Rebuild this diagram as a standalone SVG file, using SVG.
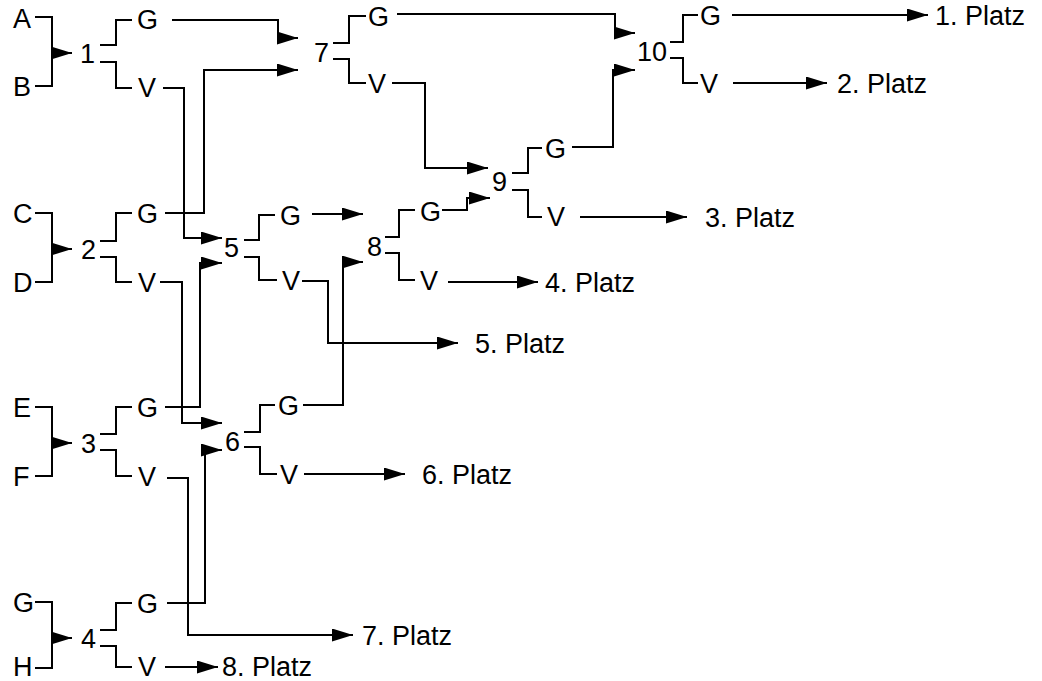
<svg xmlns="http://www.w3.org/2000/svg" width="1042" height="681" viewBox="0 0 1042 681">
<style>
text{font-family:"Liberation Sans",Arial,sans-serif;font-size:27px;fill:#000}
.ln{fill:none;stroke:#000;stroke-width:2}
.ar{fill:none;stroke:#000;stroke-width:2;marker-end:url(#ah)}
</style>
<defs>
<marker id="ah" markerUnits="userSpaceOnUse" markerWidth="21" markerHeight="13" refX="21" refY="6.5" orient="auto">
<path d="M0,0 L21,6.5 L0,13 z" fill="#000"/>
</marker>
</defs>
<rect width="1042" height="681" fill="#fff"/>

<g id="match1">
<text x="13" y="28">A</text><text x="13" y="96">B</text>
<path class="ln" d="M35,17 H52 V86 H35"/><path class="ar" d="M52,53 H72"/>
<text x="80" y="63">1</text>
<path class="ln" d="M100,45 H116 V20 H132 M100,62 H116 V88 H132"/>
<text x="137" y="29">G</text><text x="138" y="97">V</text>
</g>
<g id="match2">
<text x="13" y="223">C</text><text x="13" y="292">D</text>
<path class="ln" d="M35,213 H52 V282 H35"/><path class="ar" d="M52,249 H72"/>
<text x="81" y="259">2</text>
<path class="ln" d="M100,241 H116 V213 H132 M100,257 H116 V282 H132"/>
<text x="137" y="223">G</text><text x="138" y="292">V</text>
</g>
<g id="match3">
<text x="13" y="417">E</text><text x="13" y="486">F</text>
<path class="ln" d="M35,407 H52 V476 H35"/><path class="ar" d="M52,443 H72"/>
<text x="81" y="453">3</text>
<path class="ln" d="M100,434 H116 V407 H132 M100,450 H116 V476 H132"/>
<text x="137" y="417">G</text><text x="138" y="486">V</text>
</g>
<g id="match4">
<text x="13" y="612">G</text><text x="13" y="676">H</text>
<path class="ln" d="M35,602 H52 V668 H35"/><path class="ar" d="M52,638 H72"/>
<text x="81" y="648">4</text>
<path class="ln" d="M100,630 H116 V603 H132 M100,646 H116 V667 H132"/>
<text x="137" y="613">G</text><text x="138" y="676">V</text>
</g>
<g id="match5">
<text x="224" y="257">5</text>
<path class="ln" d="M244,240 H259 V215 H275 M244,257 H259 V280 H277"/>
<text x="280" y="225">G</text><text x="282" y="290">V</text>
</g>
<g id="match6">
<text x="225" y="451">6</text>
<path class="ln" d="M244,432 H260 V405 H275 M244,447 H260 V474 H277"/>
<text x="278" y="415">G</text><text x="280" y="484">V</text>
</g>
<g id="match7">
<text x="314" y="62">7</text>
<path class="ln" d="M333,43 H349 V16 H366 M333,59 H349 V83 H366"/>
<text x="368" y="26">G</text><text x="368" y="93">V</text>
</g>
<g id="match8">
<text x="367" y="256">8</text>
<path class="ln" d="M385,237 H399 V210 H415 M385,253 H399 V280 H415"/>
<text x="420" y="221">G</text><text x="420" y="290">V</text>
</g>
<g id="match9">
<text x="492" y="191">9</text>
<path class="ln" d="M512,173 H528 V148 H542 M512,190 H528 V217 H542"/>
<text x="545" y="158">G</text><text x="547" y="226">V</text>
</g>
<g id="match10">
<text x="637" y="61">10</text>
<path class="ln" d="M670,42 H683 V15 H698 M670,58 H683 V83 H698"/>
<text x="700" y="25">G</text><text x="700" y="93">V</text>
</g>
<g id="places">
<text x="935" y="25">1. Platz</text>
<text x="837" y="93">2. Platz</text>
<text x="705" y="227">3. Platz</text>
<text x="545" y="292">4. Platz</text>
<text x="475" y="353">5. Platz</text>
<text x="422" y="484">6. Platz</text>
<text x="362" y="645">7. Platz</text>
<text x="222" y="676">8. Platz</text>
</g>
<g id="connectors">
<path class="ar" d="M172,20 H278 V38 H298"/>
<path class="ar" d="M163,88 H184 V238 H222"/>
<path class="ar" d="M165,213 H204 V70 H298"/>
<path class="ar" d="M160,282 H182 V423 H222"/>
<path class="ar" d="M165,407 H200 V263 H222"/>
<path class="ar" d="M167,478 H188 V635 H353"/>
<path class="ar" d="M167,603 H205 V450 H222"/>
<path class="ar" d="M165,667 H218"/>
<path class="ar" d="M312,214 H363"/>
<path class="ar" d="M302,281 H328 V343 H458"/>
<path class="ar" d="M303,405 H343 V262 H363"/>
<path class="ar" d="M304,474 H405"/>
<path class="ar" d="M397,14 H615 V33 H635"/>
<path class="ar" d="M392,83 H425 V168 H488"/>
<path class="ar" d="M442,210 H467 V198 H490"/>
<path class="ar" d="M448,282 H538"/>
<path class="ar" d="M572,147 H613 V70 H635"/>
<path class="ar" d="M580,217 H687"/>
<path class="ar" d="M732,15 H928"/>
<path class="ar" d="M733,83 H827"/>
</g>
</svg>
